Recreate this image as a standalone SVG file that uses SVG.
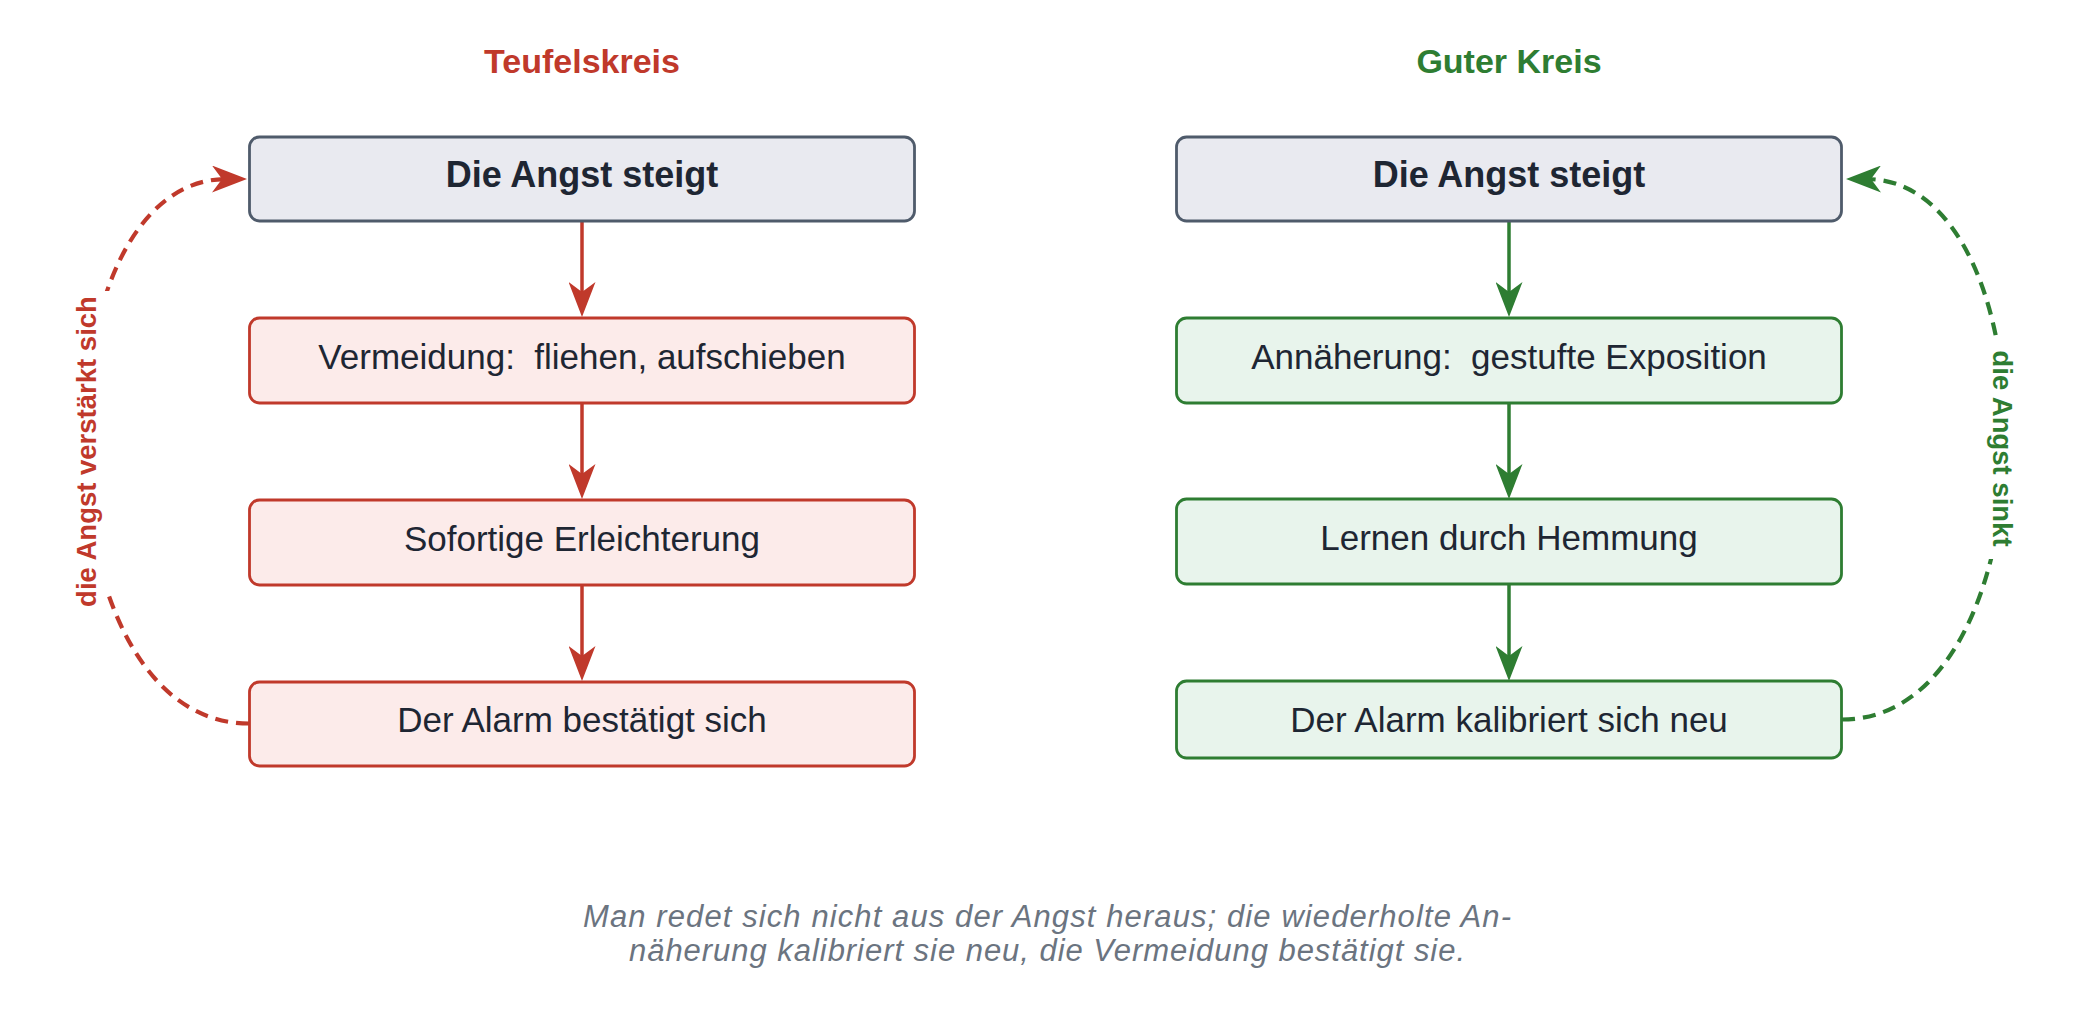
<svg xmlns="http://www.w3.org/2000/svg" width="2089" height="1025" viewBox="0 0 2089 1025">
<style>
  text { font-family: "Liberation Sans", Arial, sans-serif; }
  .title { font-size: 34px; font-weight: bold; text-anchor: middle; }
  .lbl { font-size: 35px; fill: #1e2633; text-anchor: middle; }
  .lblb { font-size: 36px; font-weight: bold; fill: #1e2633; text-anchor: middle; }
  .neutral { fill: #e9eaf0; stroke: #4f5b6b; stroke-width: 2.8; }
  .bad { fill: #fcebea; stroke: #c0392b; stroke-width: 2.8; }
  .good { fill: #e8f4ec; stroke: #2e7d32; stroke-width: 2.8; }
  .edgeR { stroke: #c0392b; stroke-width: 3.5; fill: none; }
  .edgeG { stroke: #2e7d32; stroke-width: 3.5; fill: none; }
  .dash { stroke-width: 4.2; stroke-dasharray: 13 8; fill: none; }
  .side { font-size: 27.5px; font-weight: bold; text-anchor: middle; }
  .cap { font-size: 31px; font-style: italic; fill: #6b7480; text-anchor: middle; }
</style>
<defs>
  <marker id="arrR" viewBox="0 0 35 27" markerWidth="35" markerHeight="27" refX="15" refY="13.5" orient="auto" markerUnits="userSpaceOnUse">
    <path d="M0,0 L35,13.5 L0,27 L10,13.5 Z" fill="#c0392b"/>
  </marker>
  <marker id="arrG" viewBox="0 0 35 27" markerWidth="35" markerHeight="27" refX="15" refY="13.5" orient="auto" markerUnits="userSpaceOnUse">
    <path d="M0,0 L35,13.5 L0,27 L10,13.5 Z" fill="#2e7d32"/>
  </marker>
</defs>
<rect width="2089" height="1025" fill="#ffffff"/>

<g id="titles">
  <text class="title" x="582" y="73" fill="#c0392b">Teufelskreis</text>
  <text class="title" x="1509" y="73" fill="#2e7d32">Guter Kreis</text>
</g>

<g id="connectors">
  <path class="edgeR" d="M582 221 V297" marker-end="url(#arrR)"/>
  <path class="edgeR" d="M582 403 V479" marker-end="url(#arrR)"/>
  <path class="edgeR" d="M582 585 V661" marker-end="url(#arrR)"/>
  <path class="edgeG" d="M1509 221 V297" marker-end="url(#arrG)"/>
  <path class="edgeG" d="M1509 403 V479" marker-end="url(#arrG)"/>
  <path class="edgeG" d="M1509 584 V661" marker-end="url(#arrG)"/>
  <path class="dash" stroke="#c0392b" d="M249 723.5 C34 723.5 32 179 227 179" marker-end="url(#arrR)"/>
  <path class="dash" stroke="#2e7d32" d="M1842 719.5 C2055 719.5 2057 179 1866 179" marker-end="url(#arrG)"/>
  <rect x="62" y="291" width="49" height="299" fill="#ffffff"/>
  <text class="side" fill="#c0392b" transform="translate(96 451.5) rotate(-90)">die Angst verstärkt sich</text>
  <rect x="1988" y="339" width="34" height="220" fill="#ffffff"/>
  <text class="side" fill="#2e7d32" transform="translate(1993 448.5) rotate(90)">die Angst sinkt</text>
</g>

<g id="l1"><rect class="neutral" x="249.5" y="137" width="665" height="84" rx="10"/><text class="lblb" x="582" y="187">Die Angst steigt</text></g>
<g id="l2"><rect class="bad" x="249.5" y="318" width="665" height="85" rx="10"/><text class="lbl" x="582" y="369" xml:space="preserve">Vermeidung:  fliehen, aufschieben</text></g>
<g id="l3"><rect class="bad" x="249.5" y="500" width="665" height="85" rx="10"/><text class="lbl" x="582" y="551">Sofortige Erleichterung</text></g>
<g id="l4"><rect class="bad" x="249.5" y="682" width="665" height="84" rx="10"/><text class="lbl" x="582" y="732">Der Alarm bestätigt sich</text></g>

<g id="r1"><rect class="neutral" x="1176.5" y="137" width="665" height="84" rx="10"/><text class="lblb" x="1509" y="187">Die Angst steigt</text></g>
<g id="r2"><rect class="good" x="1176.5" y="318" width="665" height="85" rx="10"/><text class="lbl" x="1509" y="369" xml:space="preserve">Annäherung:  gestufte Exposition</text></g>
<g id="r3"><rect class="good" x="1176.5" y="499" width="665" height="85" rx="10"/><text class="lbl" x="1509" y="550">Lernen durch Hemmung</text></g>
<g id="r4"><rect class="good" x="1176.5" y="681" width="665" height="77" rx="10"/><text class="lbl" x="1509" y="732">Der Alarm kalibriert sich neu</text></g>

<g id="caption">
  <text class="cap" x="1047" y="927" textLength="928" lengthAdjust="spacing">Man redet sich nicht aus der Angst heraus; die wiederholte An-</text>
  <text class="cap" x="1047" y="961" textLength="836" lengthAdjust="spacing">näherung kalibriert sie neu, die Vermeidung bestätigt sie.</text>
</g>
</svg>
